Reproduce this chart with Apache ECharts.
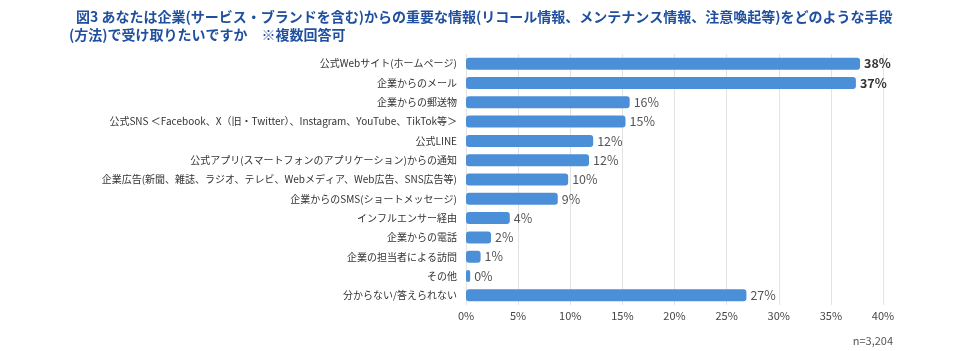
<!DOCTYPE html>
<html><head><meta charset="utf-8">
<script src="https://cdn.jsdelivr.net/npm/echarts@6/dist/echarts.min.js"></script>
<style>html,body{margin:0;padding:0;background:#fff;}#c{width:963px;height:351px;}</style>
</head><body><div id="c"></div>
<script>
const titleLine1 = "図3 あなたは企業(サービス・ブランドを含む)からの重要な情報(リコール情報、メンテナンス情報、注意喚起等)をどのような手段";
const titleLine2 = "(方法)で受け取りたいですか　※複数回答可";
const categories = [
  "公式Webサイト(ホームページ)",
  "企業からのメール",
  "企業からの郵送物",
  "公式SNS ＜Facebook、X（旧・Twitter）、Instagram、YouTube、TikTok等＞",
  "公式LINE",
  "公式アプリ(スマートフォンのアプリケーション)からの通知",
  "企業広告(新聞、雑誌、ラジオ、テレビ、Webメディア、Web広告、SNS広告等)",
  "企業からのSMS(ショートメッセージ)",
  "インフルエンサー経由",
  "企業からの電話",
  "企業の担当者による訪問",
  "その他",
  "分からない/答えられない"
];
const values = [37.8, 37.4, 15.7, 15.3, 12.2, 11.8, 9.8, 8.8, 4.2, 2.4, 1.4, 0.4, 26.9];
const xTicks = [0, 5, 10, 15, 20, 25, 30, 35, 40];
const sampleNote = "n=3,204";

const font = '"Noto Sans CJK JP", "Noto Sans", sans-serif';
const chart = echarts.init(document.getElementById('c'), null, {renderer: 'canvas'});
chart.setOption({
  backgroundColor: '#fff',
  animation: false,
  title: [
    {text: titleLine1, left: 71, top: 5, textStyle: {fontFamily: font, fontSize: 14, fontWeight: 'bold', color: '#1f4f9e'}},
    {text: titleLine2, left: 64, top: 23, textStyle: {fontFamily: font, fontSize: 14, fontWeight: 'bold', color: '#1f4f9e'}},
    {text: sampleNote, right: 65, top: 330, textStyle: {fontFamily: font, fontSize: 11, fontWeight: 'normal', color: '#555'}}
  ],
  grid: {left: 466, right: 80, top: 54, height: 251, containLabel: false},
  xAxis: {
    type: 'value', min: xTicks[0], max: xTicks[xTicks.length - 1], interval: 5,
    axisLine: {show: false}, axisTick: {show: false},
    splitLine: {lineStyle: {color: '#e3e3e3', width: 1}},
    axisLabel: {formatter: '{value}%', fontFamily: font, fontSize: 11, color: '#444', margin: 5}
  },
  yAxis: {
    type: 'category', data: categories, inverse: true,
    axisLine: {show: false}, axisTick: {show: false},
    axisLabel: {fontFamily: font, fontSize: 10, color: '#333', margin: 9}
  },
  series: [{
    type: 'bar',
    data: values.map((v, i) => ({
      value: v,
      label: {fontWeight: i < 2 ? 'bold' : 'normal', color: i < 2 ? '#333' : '#555'}
    })),
    barWidth: 12,
    itemStyle: {color: '#4a8fd8', borderRadius: 3},
    label: {
      show: true, position: 'right', distance: 4,
      fontFamily: font, fontSize: 12.5,
      formatter: p => Math.round(p.value) + '%'
    }
  }]
});
</script></body></html>
